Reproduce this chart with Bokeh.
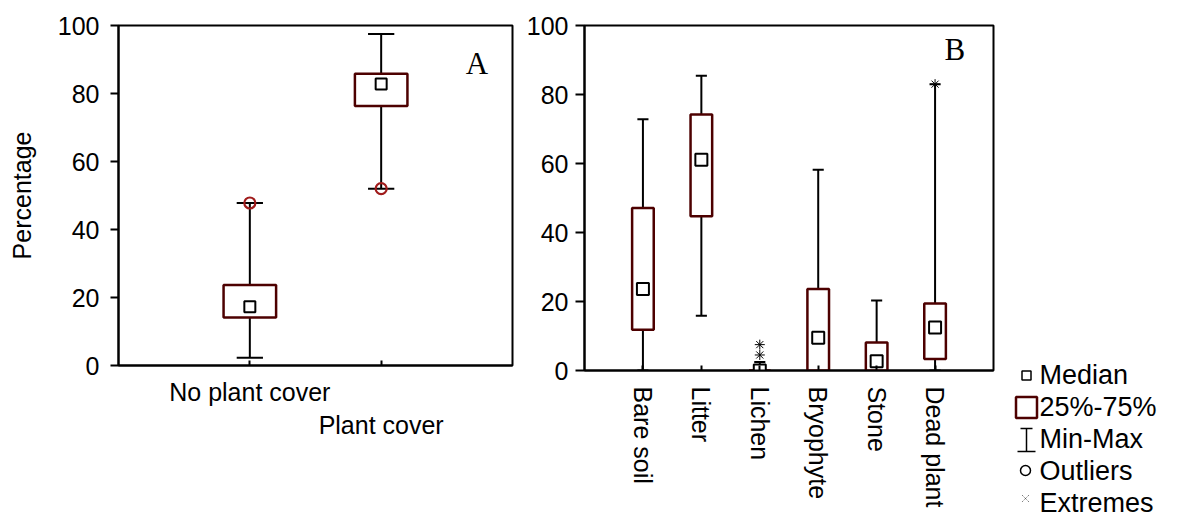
from bokeh.plotting import figure
from bokeh.layouts import row
from bokeh.models import Range1d, FixedTicker, Label
from bokeh.core.properties import value
from bokeh.embed import file_html
from bokeh.resources import INLINE

FONT = "Liberation Sans"
SERIF = "Liberation Serif"
BOX_COLOR = "#4d0000"
OUT_COLOR = "#a01c1c"

# ---------------- data: panel A ----------------
a_cats = ["No plant cover", "Plant cover"]
a_min = [2.3, 52.0]
a_q1 = [14.1, 76.3]
a_med = [17.3, 82.8]
a_q3 = [23.7, 85.8]
a_max = [47.8, 97.5]
a_out_cat = ["No plant cover", "Plant cover"]
a_out_val = [47.8, 52.0]

# ---------------- data: panel B ----------------
b_cats = ["Bare soil", "Litter", "Lichen", "Bryophyte", "Stone", "Dead plant"]
b_min = [0.0, 15.9, 0.0, 0.0, 0.0, 0.0]
b_q1 = [11.8, 44.7, 0.0, 0.0, 0.0, 3.3]
b_med = [23.6, 61.1, 0.0, 9.5, 2.7, 12.5]
b_q3 = [47.1, 74.2, 0.0, 23.6, 8.1, 19.4]
b_max = [72.8, 85.4, 2.5, 58.2, 20.3, 83.0]
b_ext_cat = ["Lichen", "Lichen", "Dead plant"]
b_ext_val = [4.5, 7.5, 83.0]

y_ticks = [0, 20, 40, 60, 80, 100]
legend_labels = ["Median", "25%-75%", "Min-Max", "Outliers", "Extremes"]

H = 521


def base_fig(width, x_end, mbl, mbr, mbb):
    p = figure(width=width, height=H, x_range=Range1d(0, x_end), y_range=Range1d(0, 100),
               output_backend="svg", toolbar_location=None,
               min_border_left=mbl, min_border_right=mbr, min_border_top=25,
               min_border_bottom=mbb, frame_align=False)
    p.grid.visible = False
    p.outline_line_color = "black"
    p.outline_line_width = 2
    p.outline_line_alpha = 1
    p.background_fill_color = "white"
    p.border_fill_color = "white"
    p.yaxis.ticker = FixedTicker(ticks=y_ticks)
    for ax in p.axis:
        ax.axis_line_width = 2
        ax.axis_line_color = "black"
        ax.major_tick_line_width = 2
        ax.major_tick_line_color = "black"
        ax.minor_tick_line_color = None
        ax.major_label_text_font = FONT
        ax.major_label_text_font_size = "25px"
        ax.major_label_text_color = "black"
    p.yaxis.major_tick_out = 8
    p.yaxis.major_tick_in = 0
    p.xaxis.major_tick_in = 5
    p.xaxis.major_tick_out = 0
    return p


def draw_boxes(p, cats, mins, q1, med, q3, maxs, box_w, cap_w, med_size):
    xs = list(range(1, len(cats) + 1))
    p.segment(x0=xs, y0=mins, x1=xs, y1=maxs, line_color="black", line_width=2)
    p.segment(x0=[x - cap_w / 2 for x in xs], y0=maxs, x1=[x + cap_w / 2 for x in xs], y1=maxs,
              line_color="black", line_width=2)
    p.segment(x0=[x - cap_w / 2 for x in xs], y0=mins, x1=[x + cap_w / 2 for x in xs], y1=mins,
              line_color="black", line_width=2)
    p.vbar(x=xs, width=box_w, bottom=q1, top=q3, fill_color="white",
           line_color=BOX_COLOR, line_width=2.5)
    p.scatter(x=xs, y=med, marker="square", size=med_size, fill_color="white",
              line_color="black", line_width=2)
    return xs


# ---------------- panel A ----------------
pA = base_fig(520, 3, 118, 8, 156)
xa = draw_boxes(pA, a_cats, a_min, a_q1, a_med, a_q3, a_max, 0.4, 0.2, 11)
pA.scatter(x=[a_cats.index(c) + 1 for c in a_out_cat], y=a_out_val, marker="circle", size=11,
           fill_color=None, line_color=OUT_COLOR, line_width=2.2)
pA.xaxis.ticker = FixedTicker(ticks=xa)
pA.xaxis.major_label_overrides = {1: a_cats[0], 2: "\n" + a_cats[1]}
pA.xaxis.major_label_standoff = 12
pA.yaxis.major_label_standoff = 11
pA.yaxis.axis_label = "Percentage"
pA.yaxis.axis_label_text_font = FONT
pA.yaxis.axis_label_text_font_size = "25px"
pA.yaxis.axis_label_text_font_style = "normal"
pA.yaxis.axis_label_text_color = "black"
pA.yaxis.axis_label_standoff = 19
pA.add_layout(Label(x=2.73, y=88.8, text="A", text_font=SERIF, text_font_size="31px",
                    text_align="center", text_baseline="middle", text_color="black"))

# ---------------- panel B ----------------
pB = base_fig(480, 7, 64, 7, 151)
xb = draw_boxes(pB, b_cats, b_min, b_q1, b_med, b_q3, b_max, 0.37, 0.19, 12)
pB.scatter(x=[b_cats.index(c) + 1 for c in b_ext_cat], y=b_ext_val, marker="asterisk", size=10,
           line_color="black", line_width=1)
pB.xaxis.ticker = FixedTicker(ticks=xb)
pB.xaxis.major_label_overrides = {i + 1: c for i, c in enumerate(b_cats)}
pB.xaxis.major_label_orientation = "vertical"
pB.xaxis.major_label_standoff = 16
pB.yaxis.major_label_standoff = 7
pB.yaxis.major_tick_out = 9
pB.add_layout(Label(x=6.34, y=93, text="B", text_font=SERIF, text_font_size="31px",
                    text_align="center", text_baseline="middle", text_color="black"))

# ---------------- legend panel ----------------
WC = 179
pC = figure(width=WC, height=H, x_range=Range1d(0, WC), y_range=Range1d(H, 0),
            output_backend="svg", toolbar_location=None, x_axis_type=None, y_axis_type=None,
            min_border=0, frame_align=False)
pC.grid.visible = False
pC.outline_line_color = None
pC.background_fill_color = "white"
pC.border_fill_color = "white"
row0, step, ix, tx = 374, 32, 26, 39
ys = [row0 + i * step for i in range(len(legend_labels))]
pC.scatter(x=[ix], y=[ys[0] + 1], marker="square", size=9, fill_color="white",
           line_color="black", line_width=1.5)
pC.rect(x=[ix], y=[ys[1] + 1], width=21, height=21, fill_color="white",
        line_color=BOX_COLOR, line_width=2.5)
pC.segment(x0=[ix, ix - 6, ix - 9], y0=[ys[2] - 10, ys[2] - 10, ys[2] + 13],
           x1=[ix, ix + 6, ix + 9], y1=[ys[2] + 13, ys[2] - 10, ys[2] + 13],
           line_color="black", line_width=1.5)
pC.scatter(x=[ix - 1], y=[ys[3]], marker="circle", size=10, fill_color="white",
           line_color="black", line_width=1.5)
pC.scatter(x=[ix - 1], y=[ys[4] - 4], marker="x", size=9, line_color="#444444", line_width=1,
           line_dash="1 1")
pC.text(x=[tx] * len(legend_labels), y=ys, text=legend_labels, text_font=value(FONT),
        text_font_size="27px", text_baseline="middle", text_align="left", text_color="black")

layout = row(pA, pB, pC)
open("out.html", "w").write(file_html(layout, INLINE))
